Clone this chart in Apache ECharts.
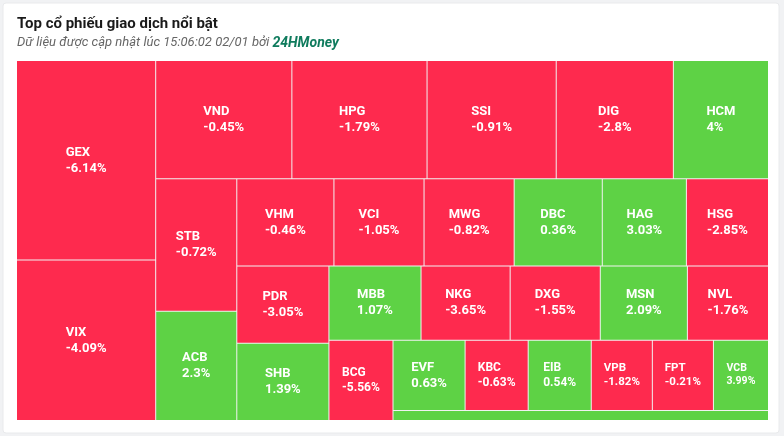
<!DOCTYPE html>
<html>
<head>
<meta charset="utf-8">
<script src="https://cdn.jsdelivr.net/npm/echarts@6/dist/echarts.min.js"></script>
<style>
html, body { margin: 0; padding: 0; background: #f1f2f4; }
#chart { width: 784px; height: 436px; }
</style>
</head>
<body>
<div id="chart"></div>
<script>
// ---- Data ----
const titleText = 'Top cổ phiếu giao dịch nổi bật';
const subtitlePrefix = 'Dữ liệu được cập nhật lúc 15:06:02 02/01 bởi ';
const subtitleBrand = '24HMoney';

const tickers = ['GEX', 'VIX', 'VND', 'HPG', 'SSI', 'DIG', 'HCM', 'STB', 'ACB', 'VHM',
                 'VCI', 'MWG', 'DBC', 'HAG', 'HSG', 'PDR', 'SHB', 'MBB', 'NKG', 'DXG',
                 'MSN', 'NVL', 'BCG', 'EVF', 'KBC', 'EIB', 'VPB', 'FPT', 'VCB', 'Khác'];
// % change shown on each tile (null = not labelled)
const changes = [-6.14, -4.09, -0.45, -1.79, -0.91, -2.8, 4, -0.72, 2.3, -0.46,
                 -1.05, -0.82, 0.36, 3.03, -2.85, -3.05, 1.39, 1.07, -3.65, -1.55,
                 2.09, -1.76, -5.56, 0.63, -0.63, 0.54, -1.82, -0.21, 3.99, null];
// relative tile sizes (trading value), estimated from tile areas
const sizes = [27661, 22240, 16048, 15930, 15222, 13806, 11210, 10692, 8829, 8439,
               7830, 7830, 7656, 7308, 7134, 7084, 7084, 6808, 6586, 6660,
               6438, 5994, 5120, 5040, 4410, 4410, 4270, 4270, 3850, 3750];

// ---- Grouping of the tiles (structure of the layout, alternating slices) ----
const SPLIT = 'split', STACK = 'stack';
const groups = [SPLIT,
  [SPLIT, 'GEX', 'VIX'],
  [STACK,
    [SPLIT, 'VND', 'HPG', 'SSI', 'DIG', 'HCM'],
    [SPLIT,
      [SPLIT, 'STB', 'ACB'],
      [STACK,
        [SPLIT, 'VHM', 'VCI', 'MWG', 'DBC', 'HAG', 'HSG'],
        [SPLIT,
          [SPLIT, 'PDR', 'SHB'],
          [STACK,
            [SPLIT, 'MBB', 'NKG', 'DXG', 'MSN', 'NVL'],
            [SPLIT, 'BCG',
              [STACK,
                [SPLIT, 'EVF', 'KBC', 'EIB', 'VPB', 'FPT', 'VCB'],
                'Khác']]]]]]]];

// ---- Styles ----
const UP = '#5ed245', DOWN = '#fe2a4e';
const BASE_FONT = 13;
const labelFont = { BCG: 12, KBC: 12, EIB: 12, VPB: 11.5, FPT: 11.5, VCB: 10.5 };
const SLIVER = 1e-3; // zero-width slice separator used to force a cut

const ctx = document.createElement('canvas').getContext('2d');

function leaf(name) {
  const i = tickers.indexOf(name);
  const ch = changes[i];
  const node = { name: name, value: sizes[i], itemStyle: { color: (ch == null || ch >= 0) ? UP : DOWN } };
  if (ch == null) {
    node.label = { show: false };
  } else {
    const fs = labelFont[name] || BASE_FONT;
    const lines = [name, ch + '%'];
    ctx.font = 'bold ' + fs + 'px Roboto';
    const w = Math.max.apply(null, lines.map(s => ctx.measureText(s).width));
    node.label = { show: true, formatter: lines.join('\n'), fontSize: fs,
                   lineHeight: Math.round(fs * 1.25), offset: [-w / 2, 0] };
  }
  return node;
}
function sliver() {
  return { name: '', value: SLIVER, itemStyle: { color: 'rgba(0,0,0,0)' }, label: { show: false } };
}
function build(spec) {
  if (typeof spec === 'string') return leaf(spec);
  const kids = spec.slice(1).map(build);
  let children = kids;
  if (spec[0] === SPLIT) {
    children = [];
    kids.forEach((k, j) => { if (j) children.push(sliver()); children.push(k); });
  }
  return { name: '', children: children };
}
const tree = build(groups);

const chart = echarts.init(document.getElementById('chart'), null, { renderer: 'canvas' });
chart.setOption({
  animation: false,
  backgroundColor: '#f1f2f4',
  graphic: [{
    type: 'rect', z: -10, silent: true,
    shape: { x: 3, y: 3, width: 776, height: 430, r: 3 },
    style: { fill: '#ffffff', stroke: '#e9eaec', lineWidth: 1 }
  }],
  title: {
    left: 17, top: 15, padding: 0, itemGap: 2,
    text: titleText,
    textStyle: { fontFamily: 'Roboto', fontSize: 15, fontWeight: 'bold', color: '#1a1a1a', lineHeight: 18 },
    subtext: '{s|' + subtitlePrefix + '}{b|' + subtitleBrand + '}',
    subtextStyle: {
      fontFamily: 'Roboto', fontSize: 13, fontStyle: 'italic', color: '#666', lineHeight: 16,
      rich: {
        s: { fontFamily: 'Roboto', fontSize: 13, fontStyle: 'italic', color: '#666666' },
        b: { fontFamily: 'Roboto', fontSize: 14, fontStyle: 'italic', fontWeight: 'bold', color: '#0f7b5d' }
      }
    }
  },
  series: [{
    type: 'treemap',
    left: 17, top: 61, right: 16, bottom: 16,
    roam: false, nodeClick: false,
    breadcrumb: { show: false },
    sort: false,
    squareRatio: 30,
    itemStyle: { borderWidth: 0, gapWidth: 1, borderColor: '#f2f2f2' },
    upperLabel: { show: false },
    label: {
      show: true, position: 'inside', align: 'left', verticalAlign: 'middle',
      color: '#ffffff', fontFamily: 'Roboto', fontWeight: 'bold', padding: 0, overflow: 'none'
    },
    emphasis: { disabled: true },
    data: tree.children
  }]
});
</script>
</body>
</html>
